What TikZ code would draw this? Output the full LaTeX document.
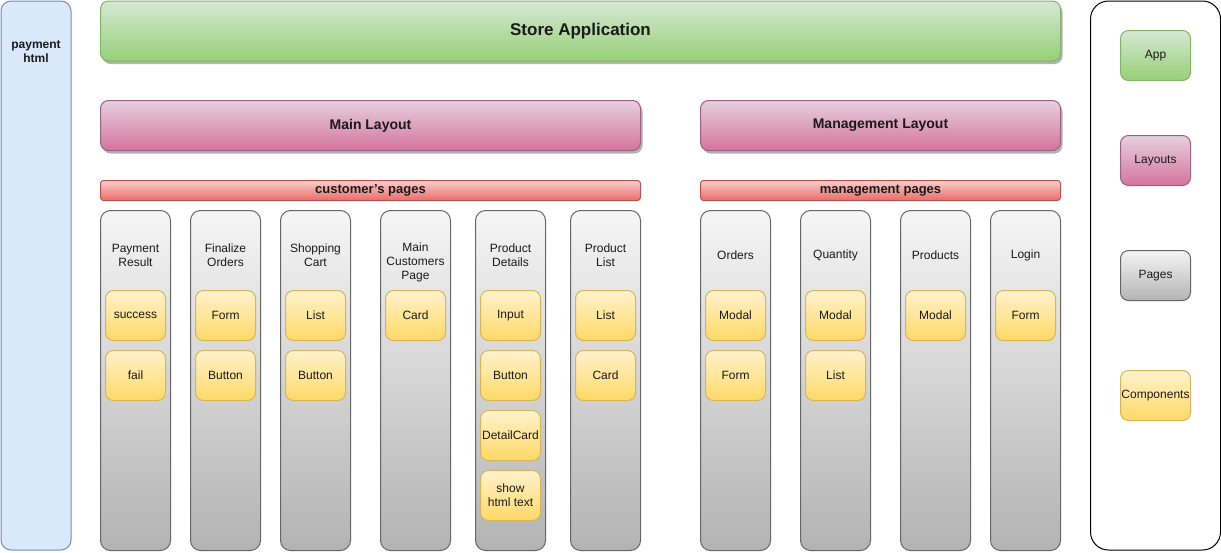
\documentclass[tikz,border=0pt]{standalone}
\usepackage{fontspec}
\setmainfont{Liberation Sans}
\usepackage{xcolor}
\usepackage{tikz}
\usetikzlibrary{calc, positioning, shadows}

\definecolor{appTop}{HTML}{D5E8D4}
\definecolor{appBot}{HTML}{97D077}
\definecolor{appLine}{HTML}{82B366}
\definecolor{layTop}{HTML}{E6D0DE}
\definecolor{layBot}{HTML}{D5739D}
\definecolor{layLine}{HTML}{996185}
\definecolor{barTop}{HTML}{F8CECC}
\definecolor{barBot}{HTML}{EA6B66}
\definecolor{barLine}{HTML}{B85450}
\definecolor{pageTop}{HTML}{F5F5F5}
\definecolor{pageBot}{HTML}{B3B3B3}
\definecolor{pageLine}{HTML}{666666}
\definecolor{compTop}{HTML}{FFF2CC}
\definecolor{compBot}{HTML}{FFD966}
\definecolor{compLine}{HTML}{D6B656}
\definecolor{htmlFill}{HTML}{DAE8FC}
\definecolor{htmlLine}{HTML}{6C8EBF}
\definecolor{txt}{HTML}{1A1A1A}

\tikzset{
	box/.style={rounded corners=8pt, line width=1pt, anchor=north west, inner sep=0pt,
		align=center, text=txt, font=\fontsize{12}{14}\selectfont},
	boldtext/.style={font=\fontsize{#1}{14}\selectfont\bfseries},
	shadowed/.style={drop shadow={shadow xshift=2pt, shadow yshift=-3pt, fill=black!30, opacity=1}},
	appbox/.style={box, draw=appLine, top color=appTop, bottom color=appBot},
	layoutbox/.style={box, shadowed, draw=layLine, top color=layTop, bottom color=layBot},
	pagesbar/.style={box, rounded corners=3pt, draw=barLine, top color=barTop, bottom color=barBot,
		minimum height=20pt, boldtext=13},
	pagebox/.style={box, rounded corners=10pt, draw=pageLine, top color=pageTop, bottom color=pageBot},
	column/.style={pagebox, minimum width=70pt, minimum height=340pt},
	comp/.style={box, draw=compLine, top color=compTop, bottom color=compBot,
		minimum width=60pt, minimum height=50pt},
	pagetitle/.style={align=center, text=txt, inner sep=0pt, font=\fontsize{12}{14}\selectfont}
}

\begin{document}
\begin{tikzpicture}[x=1pt, y=-1pt]
	\useasboundingbox (0,0) rectangle (1221,552);

	% side boxes %
	\node[box, rounded corners=10pt, draw=htmlLine, fill=htmlFill, minimum width=70pt, minimum height=549pt] (html) at (0.5,0.5) {};
	\node[pagetitle, boldtext=12] (htmltitle) at ($(html.north)+(0,51)$) {payment\\html};
	\node[box, rounded corners=18pt, draw=black, fill=white, minimum width=130pt, minimum height=549pt] (legend) at (1090,0.5) {};

	% top levels %
	\node[appbox, shadowed, minimum width=960pt, minimum height=60pt, boldtext=17] (store) at (100,0.5) {Store Application};
	\node[layoutbox, minimum width=540pt, minimum height=50pt, boldtext=14] (main) at (100,100) {Main Layout};
	\node[layoutbox, minimum width=360pt, minimum height=50pt, boldtext=14] (manage) at (700,100) {Management Layout};
	\node[pagesbar, minimum width=540pt] (custbar) at (100,180) {customer's pages};
	\node[pagesbar, minimum width=360pt] (managebar) at (700,180) {management pages};

	% customer's pages %
	\node[column] (payres) at (100,210) {};
	\node[column] (final) at (190,210) {};
	\node[column] (cart) at (280,210) {};
	\node[column] (custpage) at (380,210) {};
	\node[column] (details) at (475,210) {};
	\node[column] (prodlist) at (570,210) {};
	\node[pagetitle] at ($(payres.north)+(0,45)$) {Payment\\Result};
	\node[pagetitle] at ($(final.north)+(0,45)$) {Finalize\\Orders};
	\node[pagetitle] at ($(cart.north)+(0,45)$) {Shopping\\Cart};
	\node[pagetitle] at ($(custpage.north)+(0,52)$) {Main\\Customers\\Page};
	\node[pagetitle] at ($(details.north)+(0,45)$) {Product\\Details};
	\node[pagetitle] at ($(prodlist.north)+(0,45)$) {Product\\List};

	% management pages %
	\node[column] (orders) at (700,210) {};
	\node[column] (quantity) at (800,210) {};
	\node[column] (products) at (900,210) {};
	\node[column] (login) at (990,210) {};
	\node[pagetitle] at ($(orders.north)+(0,45)$) {Orders};
	\node[pagetitle] at ($(quantity.north)+(0,45)$) {Quantity};
	\node[pagetitle] at ($(products.north)+(0,45)$) {Products};
	\node[pagetitle] at ($(login.north)+(0,45)$) {Login};

	% components %
	\node[comp] (success) at (105,290) {success};
	\node[comp] (fail) at (105,350) {fail};
	\node[comp] (finform) at (195,290) {Form};
	\node[comp] (finbutton) at (195,350) {Button};
	\node[comp] (cartlist) at (285,290) {List};
	\node[comp] (cartbutton) at (285,350) {Button};
	\node[comp] (card) at (385,290) {Card};
	\node[comp] (input) at (480,290) {Input};
	\node[comp] (detbutton) at (480,350) {Button};
	\node[comp] (detcard) at (480,410) {DetailCard};
	\node[comp] (showhtml) at (480,470) {show\\html text};
	\node[comp] (plist) at (575,290) {List};
	\node[comp] (pcard) at (575,350) {Card};
	\node[comp] (ordmodal) at (705,290) {Modal};
	\node[comp] (ordform) at (705,350) {Form};
	\node[comp] (qmodal) at (805,290) {Modal};
	\node[comp] (qlist) at (805,350) {List};
	\node[comp] (pmodal) at (905,290) {Modal};
	\node[comp] (loginform) at (995,290) {Form};

	% legend %
	\node[appbox, minimum width=70pt, minimum height=50pt] (legapp) at (1120,30) {App};
	\node[box, draw=layLine, top color=layTop, bottom color=layBot, minimum width=70pt, minimum height=50pt] (leglayout) at (1120,135) {Layouts};
	\node[pagebox, rounded corners=8pt, minimum width=70pt, minimum height=50pt] (legpage) at (1120,250) {Pages};
	\node[comp, minimum width=70pt] (legcomp) at (1120,370) {Components};
\end{tikzpicture}
\end{document}
